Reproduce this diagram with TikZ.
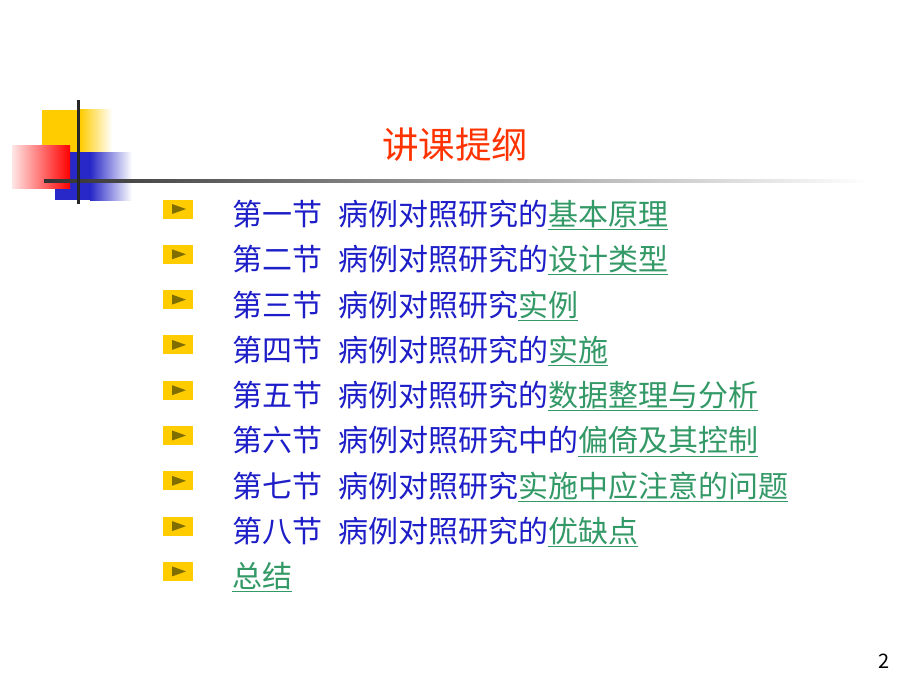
\documentclass[tikz,border=0pt]{standalone}
\usepackage{fontspec}
\usetikzlibrary{calc}
\setmainfont{Noto Sans CJK SC}
\definecolor{ttl}{RGB}{255,51,0}
\definecolor{itm}{RGB}{30,30,200}
\definecolor{lnk}{RGB}{51,153,102}
\definecolor{yel}{RGB}{255,204,0}
\definecolor{blu}{RGB}{40,40,200}
\definecolor{bul}{RGB}{128,110,0}
\newcommand{\lk}[1]{\textcolor{lnk}{\underline{#1}}}
\begin{document}
\begin{tikzpicture}[x=1pt,y=-1pt,
  item/.style={anchor=west,inner sep=0pt,text=itm,font=\fontsize{30}{32}\selectfont},
  bulbox/.style={fill=yel,draw=none,minimum width=30pt,minimum height=19pt,inner sep=0pt}]
\useasboundingbox (0,0) rectangle (920,690);
\fill[white] (0,0) rectangle (920,690);
% decoration
\fill[yel] (42,110) rectangle (80,152);
\shade[left color=yel,right color=white] (80,110) rectangle (112,152);
\fill[blu] (55,152) rectangle (90,200);
\shade[left color=blu,right color=white] (90,152) rectangle (132,200);
\shade[left color=red!10,right color=red] (12,145) rectangle (70,188);
\shade[left color=black!80,right color=white] (44,179.5) rectangle (870,182.5);
\draw[line width=3pt,black!85] (78,100) -- (78,204);
% title
\node[text=ttl,font=\fontsize{36.5}{38}\selectfont] (title) at (455,145) {讲课提纲};
% items
\foreach \i/\t in {0/{第一节\hspace{16pt}病例对照研究的\lk{基本原理}},
  1/{第二节\hspace{16pt}病例对照研究的\lk{设计类型}},
  2/{第三节\hspace{16pt}病例对照研究\lk{实例}},
  3/{第四节\hspace{16pt}病例对照研究的\lk{实施}},
  4/{第五节\hspace{16pt}病例对照研究的\lk{数据整理与分析}},
  5/{第六节\hspace{16pt}病例对照研究中的\lk{偏倚及其控制}},
  6/{第七节\hspace{16pt}病例对照研究\lk{实施中应注意的问题}},
  7/{第八节\hspace{16pt}病例对照研究的\lk{优缺点}},
  8/{\lk{总结}}} {
  \node[bulbox] (b\i) at (178,{209+45.3*\i}) {};
  \fill[bul] ($(b\i.center)+(-6,-5)$) -- ($(b\i.center)+(8,0)$) -- ($(b\i.center)+(-6,5)$) -- cycle;
  \node[item] (t\i) at (232,{215+45.3*\i}) {\t};
}
\node[font=\fontsize{20}{22}\selectfont] (pg) at (884,661) {2};
\end{tikzpicture}
\end{document}
